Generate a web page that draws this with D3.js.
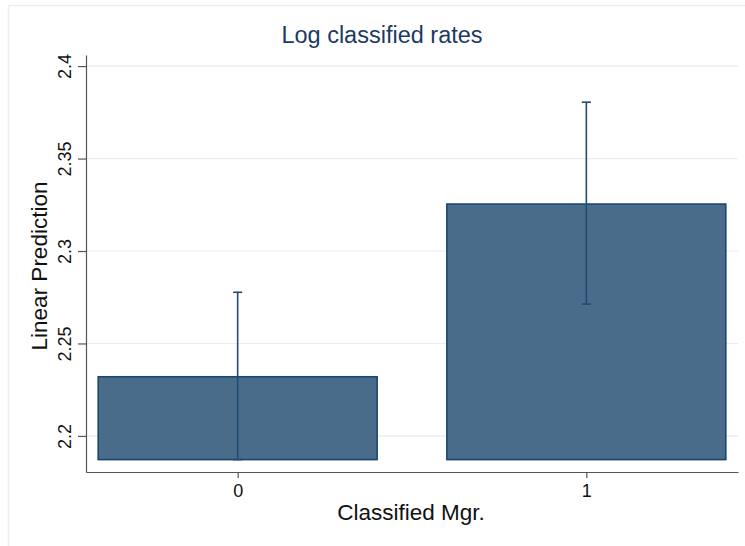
<!DOCTYPE html>
<html>
<head>
<meta charset="utf-8">
<script src="https://cdn.jsdelivr.net/npm/d3@7"></script>
<style>
  html, body { margin: 0; padding: 0; background: #ffffff; }
  svg { display: block; }
  text { font-family: "Liberation Sans", Arial, Helvetica, sans-serif; }
</style>
</head>
<body>
<script>
// Predictive margins of log classified rates by classified manager status
const categories = [0, 1];
const tickLabels = ["0", "1"];
const margins = [2.2320, 2.3254];
const ciLower = [2.1872, 2.2713];
const ciUpper = [2.2777, 2.3805];
const yTicks = [2.2, 2.25, 2.3, 2.35, 2.4];
const yTickLabels = ["2.2", "2.25", "2.3", "2.35", "2.4"];
const yExtent = [2.1805, 2.406];
const xExtent = [-0.435, 1.435];

const W = 745, H = 546;
const plot = { left: 86, right: 738, top: 55, bottom: 472 };

const svg = d3.select("body").append("svg")
  .attr("width", W).attr("height", H);

// outer graph region border
svg.append("rect")
  .attr("x", 8.5).attr("y", 5.5)
  .attr("width", W + 20).attr("height", H + 20)
  .attr("fill", "#ffffff")
  .attr("stroke", "#e9f0f2")
  .attr("stroke-width", 1.5);

const x = d3.scaleLinear().domain(xExtent).range([plot.left, plot.right]);
const y = d3.scaleLinear().domain(yExtent).range([plot.bottom, plot.top]);

// horizontal grid lines
svg.append("g")
  .selectAll("line")
  .data(yTicks)
  .join("line")
  .attr("x1", plot.left).attr("x2", plot.right)
  .attr("y1", d => y(d)).attr("y2", d => y(d))
  .attr("stroke", "#e6eef1")
  .attr("stroke-width", 1.2);

// bars start at the lowest confidence bound
const base = d3.min(ciLower);
const barWidth = 0.8;

svg.append("g")
  .selectAll("rect")
  .data(categories)
  .join("rect")
  .attr("x", (d) => x(d - barWidth / 2))
  .attr("width", x(barWidth) - x(0))
  .attr("y", (d, i) => y(margins[i]))
  .attr("height", (d, i) => y(base) - y(margins[i]))
  .attr("fill", "#4a6c8b")
  .attr("stroke", "#1a476f")
  .attr("stroke-width", 1.6);

// confidence interval spikes with caps
const capHalf = 0.013;
const ci = svg.append("g")
  .attr("stroke", "#1f4b74")
  .attr("stroke-width", 1.6)
  .attr("fill", "none");

categories.forEach((c, i) => {
  ci.append("line")
    .attr("x1", x(c)).attr("x2", x(c))
    .attr("y1", y(ciLower[i])).attr("y2", y(ciUpper[i]));
  [ciLower[i], ciUpper[i]].forEach(v => {
    ci.append("line")
      .attr("x1", x(c - capHalf)).attr("x2", x(c + capHalf))
      .attr("y1", y(v)).attr("y2", y(v));
  });
});

// y axis
const yAxis = d3.axisLeft(y)
  .tickValues(yTicks)
  .tickFormat((d, i) => yTickLabels[i])
  .tickSize(8)
  .tickSizeOuter(0);

const gy = svg.append("g")
  .attr("transform", `translate(${plot.left},0)`)
  .call(yAxis);
gy.select(".domain").attr("stroke", "#555555").attr("stroke-width", 1.2);
gy.selectAll(".tick line").attr("stroke", "#555555").attr("stroke-width", 1.2);
gy.selectAll(".tick text")
  .attr("x", 0).attr("y", 0).attr("dy", null)
  .attr("text-anchor", "middle")
  .attr("transform", "translate(-15,0) rotate(-90)")
  .attr("font-size", 18)
  .attr("fill", "#111111");

// x axis
const xAxis = d3.axisBottom(x)
  .tickValues(categories)
  .tickFormat((d, i) => tickLabels[i])
  .tickSize(6)
  .tickSizeOuter(0);

const gx = svg.append("g")
  .attr("transform", `translate(0,${plot.bottom})`)
  .call(xAxis);
gx.select(".domain").attr("stroke", "#555555").attr("stroke-width", 1.2);
gx.selectAll(".tick line").attr("stroke", "#555555").attr("stroke-width", 1.2);
gx.selectAll(".tick text")
  .attr("y", 24.5).attr("dy", null)
  .attr("font-size", 18)
  .attr("fill", "#111111");

// titles
svg.append("text")
  .attr("x", 382).attr("y", 43)
  .attr("text-anchor", "middle")
  .attr("font-size", 23.5)
  .attr("fill", "#1c3a66")
  .text("Log classified rates");

svg.append("text")
  .attr("x", 411).attr("y", 520)
  .attr("text-anchor", "middle")
  .attr("font-size", 22.5)
  .attr("fill", "#111111")
  .text("Classified Mgr.");

svg.append("text")
  .attr("transform", "translate(47,266) rotate(-90)")
  .attr("text-anchor", "middle")
  .attr("font-size", 22.5)
  .attr("fill", "#111111")
  .text("Linear Prediction");
</script>
</body>
</html>
